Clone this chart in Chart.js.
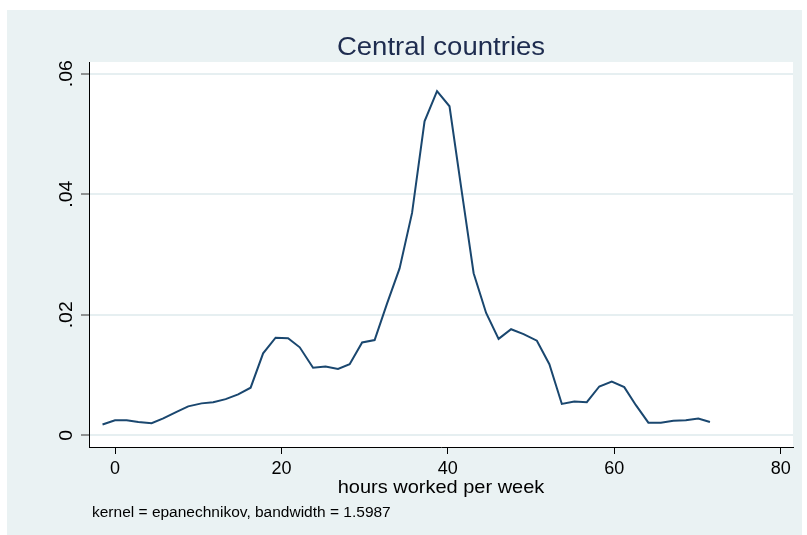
<!DOCTYPE html>
<html>
<head>
<meta charset="utf-8">
<script src="https://cdn.jsdelivr.net/npm/chart.js@4.4.0/dist/chart.umd.min.js"></script>
<style>
  html, body { margin: 0; padding: 0; background: #ffffff; }
  #wrap { width: 807px; height: 535px; }
</style>
</head>
<body>
<div id="wrap"><canvas id="canvas" width="807" height="535"></canvas></div>
<script>
// kernel density estimate, 50 points
var hours = [-1.5, 0.0, 1.4, 2.8, 4.4, 5.8, 7.4, 8.8, 10.4, 11.8,
             13.3, 14.8, 16.3, 17.8, 19.3, 20.8, 22.2, 23.8, 25.3, 26.8,
             28.2, 29.7, 31.2, 32.7, 34.2, 35.7, 37.2, 38.7, 40.2, 41.7,
             43.1, 44.6, 46.1, 47.6, 49.1, 50.7, 52.2, 53.7, 55.2, 56.7,
             58.2, 59.7, 61.2, 62.6, 64.1, 65.6, 67.1, 68.6, 70.1, 71.5];
var density = [0.0018, 0.0025, 0.0025, 0.0022, 0.0020, 0.0028, 0.0039, 0.0048, 0.0053, 0.0055,
               0.0060, 0.0068, 0.0079, 0.0136, 0.0162, 0.0161, 0.0146, 0.0112, 0.0114, 0.0110,
               0.0118, 0.0154, 0.0158, 0.0219, 0.0277, 0.0369, 0.0521, 0.0571, 0.0546, 0.0402,
               0.0269, 0.0203, 0.0160, 0.0176, 0.0168, 0.0157, 0.0118, 0.0052, 0.0056, 0.0055,
               0.0081, 0.0089, 0.0080, 0.0050, 0.0021, 0.0021, 0.0024, 0.0025, 0.0028, 0.0022];
var xTicks = [0, 20, 40, 60, 80];
var yTicks = [0, 0.02, 0.04, 0.06];
var yTickLabels = ['0', '.02', '.04', '.06'];
var titleText = 'Central countries';
var xTitle = 'hours worked per week';
var noteText = 'kernel = epanechnikov, bandwidth = 1.5987';

var points = hours.map(function(h, i) { return {x: h, y: density[i]}; });

function stretchText(ctx, txt, x, y, size, sx, align) {
  ctx.save();
  ctx.font = size + 'px "Liberation Sans", Arial, sans-serif';
  ctx.textAlign = align || 'center';
  ctx.textBaseline = 'alphabetic';
  ctx.translate(x, y);
  ctx.scale(sx, 1);
  ctx.fillText(txt, 0, 0);
  ctx.restore();
}

var stataLook = {
  id: 'stataLook',
  beforeDraw: function(chart) {
    var ctx = chart.ctx, a = chart.chartArea;
    ctx.save();
    ctx.fillStyle = '#eaf2f3';
    ctx.fillRect(7, 10, 795, 525);
    ctx.fillStyle = '#ffffff';
    ctx.fillRect(a.left, a.top, a.right - a.left, a.bottom - a.top);
    ctx.restore();
  },
  afterDraw: function(chart) {
    var ctx = chart.ctx, a = chart.chartArea;
    var ys = chart.scales.y;
    ctx.save();
    ctx.fillStyle = '#1e2c4f';
    stretchText(ctx, titleText, (a.left + a.right) / 2, 54.5, 25.5, 1.08);
    ctx.fillStyle = '#000000';
    stretchText(ctx, xTitle, (a.left + a.right) / 2, 493, 18.5, 1.08);
    stretchText(ctx, noteText, 92, 516.5, 15.5, 1.0, 'left');
    // rotated y tick labels
    yTicks.forEach(function(v, i) {
      var py = ys.getPixelForValue(v);
      ctx.save();
      ctx.font = '18px "Liberation Sans", Arial, sans-serif';
      ctx.textAlign = 'center';
      ctx.textBaseline = 'alphabetic';
      ctx.translate(72, py);
      ctx.rotate(-Math.PI / 2);
      ctx.scale(1.08, 1);
      ctx.fillText(yTickLabels[i], 0, 0);
      ctx.restore();
    });
    ctx.restore();
  }
};

var config = {
  type: 'line',
  data: {
    datasets: [{
      data: points,
      borderColor: '#1a476f',
      borderWidth: 2,
      pointRadius: 0,
      fill: false,
      tension: 0
    }]
  },
  options: {
    responsive: false,
    animation: false,
    devicePixelRatio: 1,
    layout: {padding: {left: 81, right: 14, top: 62, bottom: 48}},
    plugins: {legend: {display: false}, tooltip: {enabled: false}, title: {display: false}},
    scales: {
      x: {
        type: 'linear',
        min: -3.125, max: 81.48,
        afterBuildTicks: function(s) { s.ticks = xTicks.map(function(v) { return {value: v}; }); },
        afterFit: function(s) { s.height = 40; },
        grid: {drawOnChartArea: false, drawTicks: true, tickLength: 7, tickColor: '#000000', tickWidth: 1},
        border: {display: true, color: '#000000', width: 1},
        ticks: {
          color: '#000000',
          padding: 4,
          maxRotation: 0,
          font: {family: '"Liberation Sans", Arial, sans-serif', size: 18},
          callback: function(v) { return String(v); }
        }
      },
      y: {
        min: -0.00194, max: 0.06194,
        afterBuildTicks: function(s) { s.ticks = yTicks.map(function(v) { return {value: v}; }); },
        afterFit: function(s) { s.width = 8; },
        grid: {color: '#e6eff1', lineWidth: 2, drawTicks: true, tickLength: 8, tickColor: '#333333', tickWidth: 1},
        border: {display: true, color: '#000000', width: 1},
        ticks: {display: false}
      }
    }
  },
  plugins: [stataLook]
};

window.onload = function() {
  window.myChart = new Chart(document.getElementById('canvas'), config);
};
</script>
</body>
</html>
